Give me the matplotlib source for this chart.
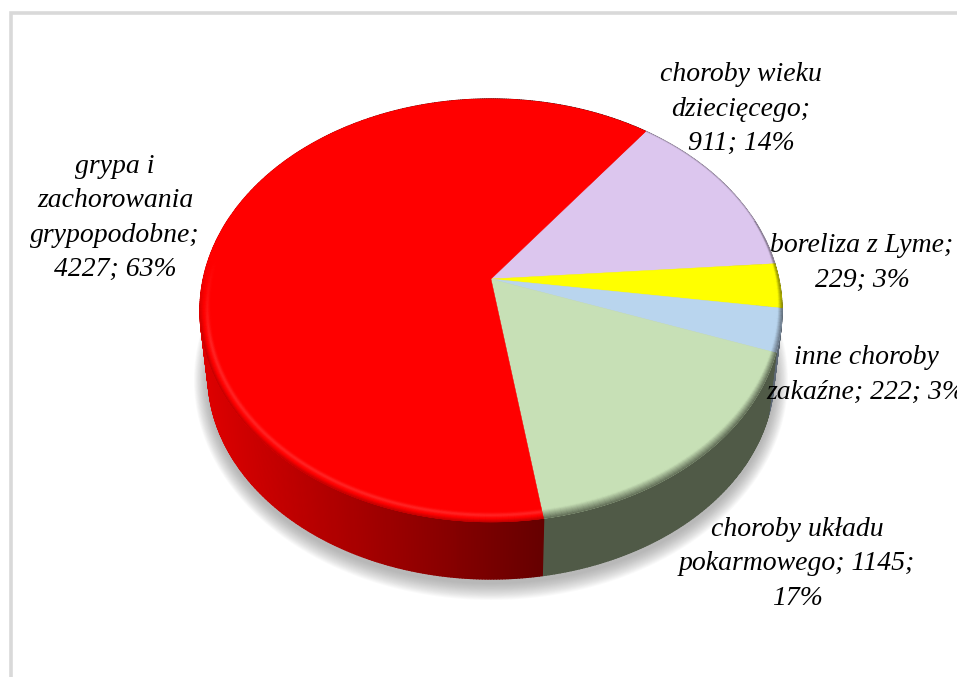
import numpy as np
import matplotlib
matplotlib.use('Agg')
import matplotlib.pyplot as plt
from matplotlib.collections import PolyCollection

categories = ['choroby wieku dziecięcego', 'borelioza', 'inne choroby zakaźne',
              'choroby układu pokarmowego', 'grypa i zachorowania grypopodobne']
values = [911, 229, 222, 1145, 4227]
top_colors = ['#dcc6ee', '#ffff00', '#b9d5ee', '#c7e0b6', '#ff0000']
wall_colors = ['#6f6577', '#7f7f00', '#5d6875', '#505a47', '#a00000']
labels = ['choroby wieku\ndziecięcego;\n911; 14%',
          'boreliza z Lyme;\n229; 3%',
          'inne choroby\nzakaźne; 222; 3%',
          'choroby układu\npokarmowego; 1145;\n17%',
          'grypa i\nzachorowania\ngrypopodobne;\n4227; 63%']
label_pos = [(741, 109), (862, 263), (866, 375), (797, 564), (115, 218)]

# Pie geometry, in pixels
start_angle = 37.0
apex_x, apex_y = 491.0, 279.0
persp = 0.149
scale_x, scale_y = 287.7, 206.8
top_cy, top_rx, top_ry = 310.0, 291.0, 211.0
low_cy, low_rx, low_ry = 375.0, 283.0, 203.0


def project(theta_deg, r=1.0):
    # theta clockwise from 12 o'clock, perspective view of a flat disc
    t = np.radians(theta_deg)
    u, v = r * np.sin(t), r * np.cos(t)
    w = 1 + persp * v
    return apex_x + scale_x * u / w, apex_y - scale_y * v / w


def lower(x, y):
    return (apex_x + (x - apex_x) * low_rx / top_rx,
            low_cy + (y - top_cy) * low_ry / top_ry)


def blend(c1, c2, a):
    return tuple(np.array(c1) * (1 - a) + np.array(c2) * a)


fig = plt.figure(figsize=(9.57, 6.77), dpi=100)
ax = fig.add_axes([0, 0, 1, 1])
ax.set_xlim(0, 957)
ax.set_ylim(677, 0)
ax.axis('off')

# Frame, only top and left show
ax.plot([958, 11, 11], [13, 13, 678], color='#d9d9d9', lw=2.6, solid_joinstyle='miter', zorder=1)

# Soft shadow under the disc
phi = np.linspace(0, 2 * np.pi, 361)
for i in range(18):
    grow = 1 - i / 18
    ax.fill(apex_x + (low_rx + 14 * grow) * np.cos(phi),
            low_cy + 5 + (low_ry + 17 * grow) * np.sin(phi),
            color='#808080', alpha=0.04, lw=0, zorder=2)

edges = start_angle + np.concatenate([[0], np.cumsum(values)]) / np.sum(values) * 360

# Side wall, one strip per small angle step
dark_red = matplotlib.colors.to_rgb('#660000')
light_red = matplotlib.colors.to_rgb('#dc0000')
quads, quad_cols = [], []
for i in range(len(values)):
    th = np.arange(edges[i], edges[i + 1], 0.5)
    th = np.append(th, edges[i + 1])
    for a, b in zip(th[:-1], th[1:]):
        x1, y1 = project(a)
        x2, y2 = project(b)
        x3, y3 = lower(x2, y2)
        x4, y4 = lower(x1, y1)
        quads.append([(x1, y1), (x2, y2), (x3, y3), (x4, y4)])
        if top_colors[i] == '#ff0000':
            f = np.clip(((x1 + x2) / 2 - 205) / 336, 0, 1)
            quad_cols.append(blend(light_red, dark_red, f))
        else:
            quad_cols.append(matplotlib.colors.to_rgb(wall_colors[i]))
ax.add_collection(PolyCollection(quads, facecolors=quad_cols, edgecolors=quad_cols, lw=1.0, zorder=3))

# Top face
for i in range(len(values)):
    th = np.linspace(edges[i], edges[i + 1], 200)
    x, y = project(th)
    ax.fill(np.r_[apex_x, x], np.r_[apex_y, y], color=top_colors[i], lw=0.3, zorder=4)

# Bevel along the rim of the top face
depths = np.arange(0, 11, 0.5)
quads, quad_cols = [], []
for i in range(len(values)):
    top = matplotlib.colors.to_rgb(top_colors[i])
    is_red = top_colors[i] == '#ff0000'
    edge = matplotlib.colors.to_rgb('#c00000') if is_red else matplotlib.colors.to_rgb(wall_colors[i])
    th = np.arange(edges[i], edges[i + 1], 1.0)
    th = np.append(th, edges[i + 1])
    for a, b in zip(th[:-1], th[1:]):
        v = np.cos(np.radians((a + b) / 2))
        width = np.clip(1.0 + 7.0 * (0.3 - v) / 1.3, 1.0, 8.0)
        low = np.clip((0.1 - v) * 2.5, 0, 1)
        for d in depths:
            r1, r2 = 1 - d / 250, 1 - (d + 0.5) / 250
            x1, y1 = project(a, r1)
            x2, y2 = project(b, r1)
            x3, y3 = project(b, r2)
            x4, y4 = project(a, r2)
            mix = np.clip(1 - d / width, 0, 1)
            if is_red:
                mix = np.clip(1 - d / 3, 0, 1) * low
                col = blend(top, edge, mix)
                glow = np.exp(-((d - 6) / 1.8) ** 2) * low * 0.55
                col = blend(col, (1, 0.27, 0.27), glow)
            else:
                col = blend(top, edge, mix * (0.9 if v < 0.3 else 0.5))
            quads.append([(x1, y1), (x2, y2), (x3, y3), (x4, y4)])
            quad_cols.append(col)
ax.add_collection(PolyCollection(quads, facecolors=quad_cols, edgecolors=quad_cols, lw=0.2, zorder=5))

# Data labels
for txt, (lx, ly) in zip(labels, label_pos):
    ax.text(lx, ly, txt, ha='center', va='center', family='Liberation Serif',
            style='italic', fontsize=20, color='black', linespacing=1.5, zorder=6)

fig.savefig('out.png', dpi=100)
